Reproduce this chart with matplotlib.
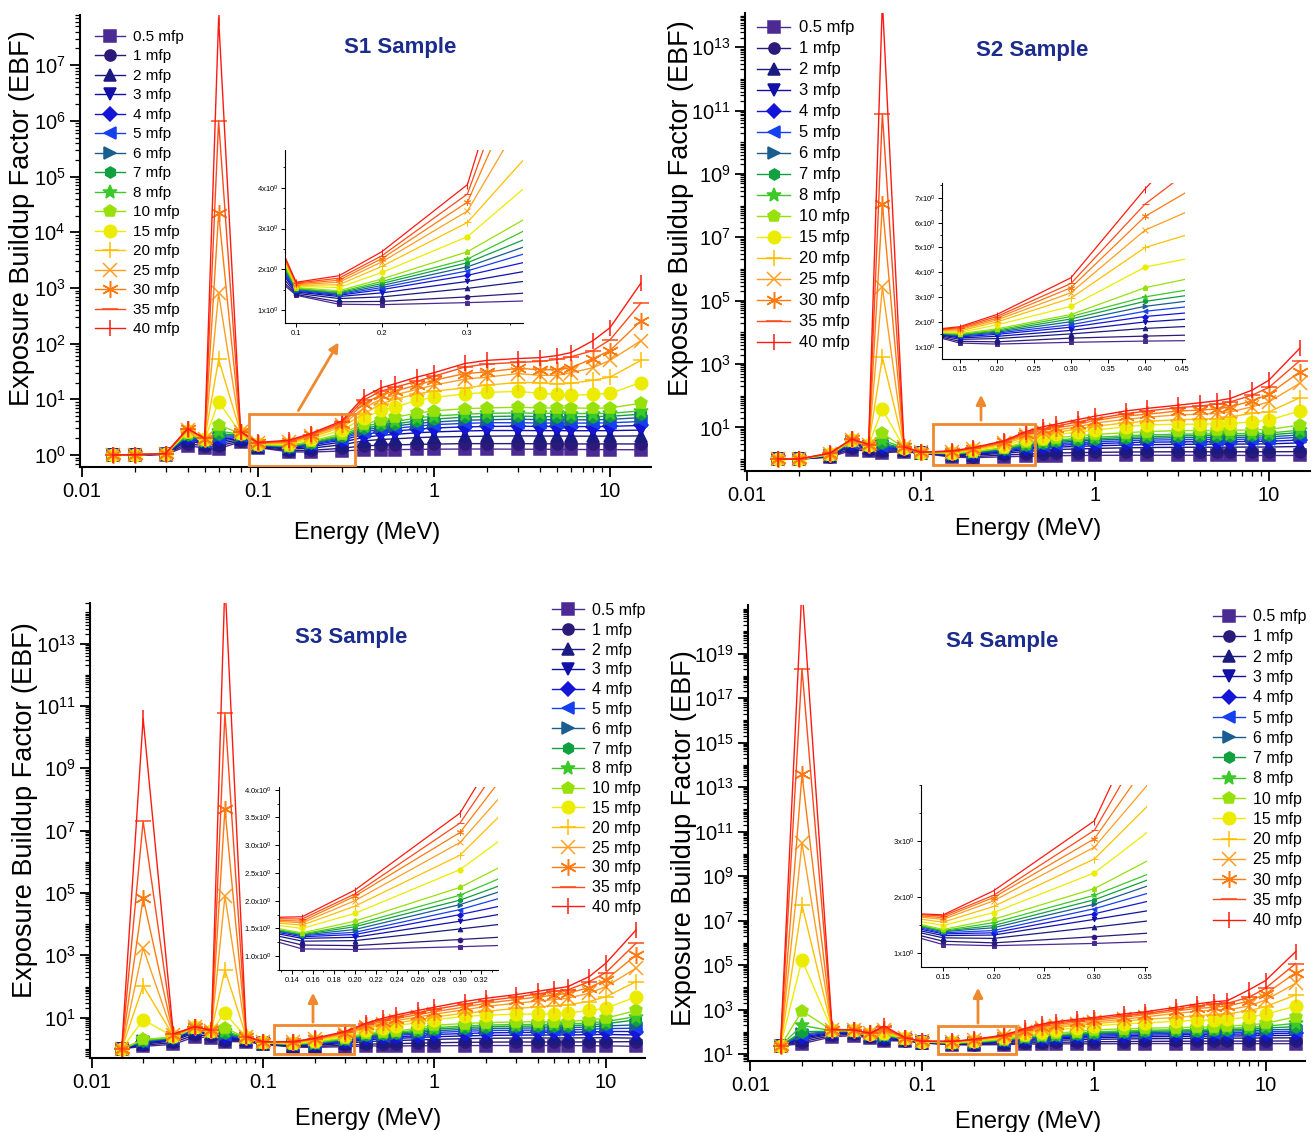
import numpy as np
import matplotlib
matplotlib.use('Agg')
import matplotlib.pyplot as plt
from matplotlib.patches import Rectangle, FancyArrowPatch
from matplotlib.ticker import (LogLocator, FixedLocator, FixedFormatter, FuncFormatter,
                               NullFormatter, MultipleLocator, LogFormatterMathtext)

plt.rcParams['font.family'] = ['Liberation Sans', 'DejaVu Sans']
plt.rcParams['mathtext.fontset'] = 'custom'
plt.rcParams['mathtext.rm'] = 'Liberation Sans'
plt.rcParams['mathtext.it'] = 'Liberation Sans:italic'
plt.rcParams['mathtext.bf'] = 'Liberation Sans:bold'

# photon energies (MeV)
energy = [0.015, 0.02, 0.03, 0.04, 0.05, 0.06, 0.08, 0.1, 0.15, 0.2, 0.3, 0.4, 0.5,
          0.6, 0.8, 1, 1.5, 2, 3, 4, 5, 6, 8, 10, 15]
# penetration depths (mfp)
depths = [0.5, 1, 2, 3, 4, 5, 6, 7, 8, 10, 15, 20, 25, 30, 35, 40]
labels = [f'{d:g} mfp' for d in depths]

colors = ['#4B2A93', '#2B1A7A', '#1A1A80', '#1010A8', '#1515D8', '#1540F0', '#1A5E90',
          '#10A040', '#3CC828', '#98E00A', '#ECEC00', '#FFC000', '#FF9E20', '#FF7A10',
          '#FF4A1A', '#FF1A10']
markers = ['s', 'o', '^', 'v', 'D', '<', '>', 'h', '*', 'p', 'o', '+', 'x', (6, 2, 0), '_', '|']
msizes = [8, 8, 8, 8, 7, 8, 8, 8, 10, 9, 9, 12, 10, 12, 12, 12]

# EBF tables: one row per energy, one column per depth
s1_ebf = [
    [1.00, 1.00, 1.00, 1.00, 1.00, 1.00, 1.00, 1.00, 1.00, 1.00, 1.00, 1.00, 1.00, 1.00, 1.00, 1.00],
    [1.00, 1.00, 1.00, 1.00, 1.01, 1.01, 1.01, 1.01, 1.01, 1.01, 1.01, 1.01, 1.01, 1.01, 1.01, 1.01],
    [1.02, 1.03, 1.03, 1.04, 1.04, 1.04, 1.05, 1.05, 1.05, 1.05, 1.05, 1.05, 1.06, 1.06, 1.06, 1.06],
    [1.45, 1.60, 1.80, 1.95, 2.05, 2.15, 2.25, 2.32, 2.40, 2.50, 2.65, 2.75, 2.82, 2.88, 2.93, 2.98],
    [1.35, 1.45, 1.55, 1.62, 1.68, 1.72, 1.76, 1.79, 1.82, 1.86, 1.90, 1.93, 1.95, 1.97, 1.98, 2.00],
    [1.30, 1.45, 1.60, 1.75, 1.90, 2.05, 2.20, 2.40, 2.70, 3.50, 9.0, 52, 800, 2.2e4, 1.0e6, 7.0e7],
    [1.72, 1.80, 1.90, 2.00, 2.08, 2.15, 2.22, 2.28, 2.34, 2.40, 2.46, 2.51, 2.55, 2.58, 2.61, 2.63],
    [1.36, 1.38, 1.41, 1.44, 1.46, 1.48, 1.50, 1.52, 1.53, 1.55, 1.58, 1.60, 1.62, 1.64, 1.66, 1.68],
    [1.14, 1.20, 1.28, 1.33, 1.36, 1.38, 1.40, 1.42, 1.44, 1.47, 1.55, 1.62, 1.68, 1.73, 1.78, 1.84],
    [1.13, 1.21, 1.32, 1.42, 1.50, 1.55, 1.60, 1.65, 1.70, 1.76, 1.92, 2.07, 2.18, 2.26, 2.33, 2.43],
    [1.18, 1.32, 1.53, 1.70, 1.85, 1.96, 2.06, 2.16, 2.25, 2.43, 2.80, 3.15, 3.43, 3.65, 3.85, 4.08],
    [1.24, 1.46, 1.79, 2.07, 2.33, 2.59, 2.80, 3.02, 3.30, 3.63, 4.60, 5.50, 7.00, 8.40, 9.70, 11.0],
    [1.25, 1.50, 1.90, 2.25, 2.60, 2.90, 3.15, 3.40, 3.70, 4.20, 6.30, 8.20, 10.0, 12.0, 14.0, 16.0],
    [1.25, 1.52, 1.95, 2.35, 2.70, 3.00, 3.30, 3.60, 4.00, 4.80, 7.20, 10.0, 12.0, 14.0, 16.5, 19.0],
    [1.26, 1.55, 2.05, 2.50, 2.90, 3.30, 3.70, 4.10, 4.60, 5.60, 9.60, 12.5, 15.0, 18.0, 21.0, 25.0],
    [1.27, 1.57, 2.10, 2.60, 3.05, 3.50, 3.90, 4.40, 5.00, 6.20, 10.8, 14.0, 18.0, 22.0, 26.0, 30.0],
    [1.28, 1.60, 2.15, 2.70, 3.20, 3.70, 4.20, 4.80, 5.40, 6.80, 12.5, 16.0, 23.0, 29.0, 38.0, 44.0],
    [1.28, 1.60, 2.18, 2.75, 3.25, 3.80, 4.30, 4.90, 5.60, 7.00, 13.3, 18.0, 25.0, 31.0, 43.0, 50.0],
    [1.27, 1.60, 2.20, 2.75, 3.30, 3.80, 4.40, 5.00, 5.70, 7.20, 13.9, 20.0, 29.0, 36.0, 46.0, 54.0],
    [1.27, 1.59, 2.19, 2.74, 3.25, 3.75, 4.30, 4.90, 5.60, 7.00, 12.8, 20.0, 27.0, 34.0, 48.0, 56.0],
    [1.26, 1.59, 2.19, 2.74, 3.25, 3.75, 4.30, 4.90, 5.60, 7.00, 12.3, 19.0, 27.0, 34.0, 52.0, 61.0],
    [1.26, 1.58, 2.18, 2.73, 3.24, 3.74, 4.28, 4.88, 5.55, 7.00, 11.8, 19.3, 30.0, 37.0, 58.0, 69.0],
    [1.25, 1.58, 2.18, 2.73, 3.24, 3.74, 4.28, 4.90, 5.55, 6.90, 12.3, 22.0, 37.0, 54.0, 75.0, 113],
    [1.25, 1.58, 2.18, 2.74, 3.26, 3.78, 4.35, 4.95, 5.60, 7.00, 12.8, 25.0, 50.0, 75.0, 117, 193],
    [1.24, 1.58, 2.20, 2.80, 3.40, 4.00, 4.70, 5.40, 6.20, 8.50, 20.0, 50.0, 113, 257, 540, 1230],
]

s2_ebf = [
    [1.00, 1.00, 1.00, 1.00, 1.00, 1.00, 1.00, 1.00, 1.00, 1.00, 1.00, 1.00, 1.00, 1.00, 1.00, 1.00],
    [1.00, 1.00, 1.00, 1.00, 1.00, 1.01, 1.01, 1.01, 1.01, 1.01, 1.01, 1.01, 1.01, 1.01, 1.01, 1.01],
    [1.15, 1.18, 1.22, 1.25, 1.28, 1.30, 1.32, 1.34, 1.36, 1.38, 1.42, 1.45, 1.48, 1.50, 1.52, 1.55],
    [1.90, 2.20, 2.60, 2.90, 3.10, 3.30, 3.45, 3.60, 3.70, 3.85, 4.00, 4.10, 4.15, 4.20, 4.25, 4.30],
    [1.85, 2.00, 2.20, 2.35, 2.45, 2.55, 2.60, 2.65, 2.70, 2.75, 2.80, 2.82, 2.84, 2.86, 2.88, 2.90],
    [1.60, 1.75, 1.95, 2.15, 2.35, 2.55, 2.80, 3.20, 4.00, 6.50, 37.0, 1650, 2.7e5, 1.1e8, 8.0e10, 3.0e14],
    [1.70, 1.80, 1.90, 2.00, 2.07, 2.12, 2.17, 2.20, 2.24, 2.28, 2.32, 2.35, 2.37, 2.39, 2.41, 2.43],
    [1.55, 1.56, 1.57, 1.58, 1.58, 1.59, 1.59, 1.60, 1.60, 1.61, 1.61, 1.62, 1.63, 1.63, 1.64, 1.65],
    [1.15, 1.22, 1.30, 1.36, 1.40, 1.43, 1.46, 1.48, 1.50, 1.53, 1.58, 1.64, 1.69, 1.73, 1.77, 1.81],
    [1.11, 1.20, 1.33, 1.42, 1.50, 1.55, 1.59, 1.63, 1.67, 1.72, 1.88, 2.00, 2.08, 2.15, 2.22, 2.30],
    [1.18, 1.35, 1.52, 1.66, 1.79, 1.89, 2.01, 2.12, 2.22, 2.30, 2.63, 2.96, 3.18, 3.38, 3.55, 3.78],
    [1.23, 1.43, 1.74, 2.00, 2.22, 2.43, 2.63, 2.83, 3.01, 3.38, 4.21, 5.00, 5.70, 6.25, 6.75, 7.36],
    [1.26, 1.50, 1.88, 2.20, 2.48, 2.75, 3.00, 3.25, 3.50, 4.00, 4.80, 5.90, 7.00, 8.00, 9.00, 10.5],
    [1.28, 1.56, 2.00, 2.38, 2.70, 3.05, 3.35, 3.70, 4.00, 4.80, 6.00, 7.00, 8.20, 9.60, 11.0, 12.7],
    [1.30, 1.60, 2.10, 2.52, 2.90, 3.30, 3.70, 4.10, 4.50, 5.40, 7.00, 8.80, 10.5, 12.5, 15.0, 17.8],
    [1.31, 1.63, 2.17, 2.62, 3.05, 3.50, 3.95, 4.40, 4.90, 6.00, 8.20, 10.8, 13.7, 16.5, 18.7, 22.6],
    [1.32, 1.67, 2.27, 2.78, 3.30, 3.80, 4.30, 4.80, 5.40, 6.80, 10.5, 14.0, 18.0, 23.0, 27.0, 33.0],
    [1.32, 1.69, 2.32, 2.85, 3.40, 3.95, 4.50, 5.10, 5.80, 7.40, 12.0, 15.5, 21.0, 26.0, 33.0, 40.0],
    [1.32, 1.70, 2.35, 2.92, 3.50, 4.10, 4.75, 5.40, 6.10, 7.90, 12.6, 17.6, 25.0, 33.0, 42.0, 50.0],
    [1.32, 1.70, 2.37, 2.95, 3.55, 4.15, 4.80, 5.50, 6.20, 8.00, 12.6, 18.0, 26.0, 35.0, 47.0, 60.0],
    [1.31, 1.70, 2.37, 2.95, 3.55, 4.15, 4.80, 5.50, 6.20, 8.00, 13.0, 19.0, 27.6, 38.0, 54.0, 69.0],
    [1.31, 1.70, 2.38, 2.97, 3.58, 4.20, 4.85, 5.50, 6.30, 8.10, 13.3, 21.6, 31.0, 44.6, 64.0, 82.0],
    [1.30, 1.70, 2.40, 3.00, 3.60, 4.25, 4.90, 5.60, 6.40, 8.30, 15.0, 27.6, 44.6, 69.0, 104, 150],
    [1.30, 1.70, 2.40, 3.02, 3.65, 4.30, 5.00, 5.80, 6.60, 8.60, 17.0, 31.0, 64.0, 112, 183, 310],
    [1.30, 1.72, 2.50, 3.25, 4.00, 4.90, 5.80, 6.90, 8.20, 11.8, 33.0, 86.0, 245, 565, 1260, 3100],
]

s3_ebf = [
    [1.00, 1.00, 1.00, 1.00, 1.00, 1.00, 1.00, 1.00, 1.00, 1.00, 1.00, 1.00, 1.00, 1.00, 1.00, 1.00],
    [1.20, 1.30, 1.42, 1.52, 1.60, 1.67, 1.73, 1.80, 1.88, 2.00, 8.5, 105, 1700, 7.0e4, 2.0e7, 4.0e10],
    [1.40, 1.60, 1.80, 1.95, 2.05, 2.15, 2.22, 2.28, 2.33, 2.40, 2.50, 2.60, 2.70, 2.80, 2.90, 3.00],
    [2.40, 2.80, 3.30, 3.70, 4.00, 4.20, 4.35, 4.50, 4.60, 4.70, 4.85, 4.95, 5.00, 5.05, 5.10, 5.15],
    [2.30, 2.60, 2.90, 3.10, 3.25, 3.35, 3.45, 3.52, 3.58, 3.65, 3.75, 3.82, 3.87, 3.90, 3.93, 3.95],
    [1.70, 1.85, 2.05, 2.25, 2.45, 2.70, 2.95, 3.30, 3.80, 4.70, 14.0, 340, 8.0e4, 5.0e7, 6.0e10, 1.0e15],
    [1.70, 1.80, 1.90, 1.98, 2.05, 2.10, 2.15, 2.18, 2.22, 2.26, 2.32, 2.37, 2.40, 2.43, 2.46, 2.50],
    [1.40, 1.43, 1.47, 1.50, 1.52, 1.54, 1.55, 1.56, 1.57, 1.59, 1.62, 1.64, 1.66, 1.67, 1.68, 1.69],
    [1.13, 1.20, 1.27, 1.32, 1.35, 1.37, 1.38, 1.39, 1.40, 1.42, 1.50, 1.56, 1.60, 1.63, 1.67, 1.71],
    [1.12, 1.19, 1.28, 1.34, 1.39, 1.43, 1.48, 1.53, 1.57, 1.63, 1.77, 1.90, 2.00, 2.08, 2.12, 2.19],
    [1.17, 1.30, 1.49, 1.63, 1.75, 1.84, 1.93, 2.01, 2.10, 2.24, 2.56, 2.82, 3.05, 3.23, 3.40, 3.58],
    [1.23, 1.41, 1.71, 1.96, 2.15, 2.38, 2.55, 2.70, 2.90, 3.20, 3.95, 4.70, 5.20, 5.70, 6.20, 6.70],
    [1.24, 1.45, 1.80, 2.10, 2.35, 2.60, 2.80, 2.98, 3.20, 3.50, 4.60, 5.60, 6.50, 7.50, 8.50, 9.60],
    [1.24, 1.47, 1.85, 2.18, 2.45, 2.72, 2.95, 3.15, 3.40, 3.70, 5.60, 6.80, 8.10, 9.40, 10.8, 12.3],
    [1.25, 1.52, 1.94, 2.30, 2.62, 2.98, 3.30, 3.65, 4.00, 4.60, 6.90, 8.60, 10.5, 12.5, 14.5, 17.0],
    [1.26, 1.57, 2.02, 2.45, 2.90, 3.35, 3.80, 4.30, 4.80, 5.70, 8.60, 10.5, 13.0, 15.5, 18.5, 21.7],
    [1.27, 1.62, 2.12, 2.60, 3.10, 3.65, 4.20, 4.80, 5.40, 6.50, 11.0, 14.0, 18.0, 22.0, 27.0, 33.0],
    [1.28, 1.64, 2.18, 2.70, 3.25, 3.85, 4.45, 5.10, 5.80, 7.00, 12.0, 16.0, 23.0, 29.0, 35.0, 42.0],
    [1.28, 1.66, 2.22, 2.75, 3.35, 3.95, 4.60, 5.30, 6.00, 7.30, 13.0, 20.0, 29.0, 38.0, 46.0, 55.0],
    [1.28, 1.66, 2.23, 2.78, 3.38, 4.00, 4.70, 5.40, 6.10, 7.40, 13.0, 22.0, 34.0, 46.0, 58.0, 70.0],
    [1.28, 1.66, 2.23, 2.78, 3.38, 4.00, 4.70, 5.40, 6.10, 7.40, 13.0, 24.0, 38.0, 53.0, 70.0, 85.0],
    [1.27, 1.66, 2.24, 2.80, 3.40, 4.05, 4.75, 5.45, 6.20, 7.50, 14.0, 26.0, 42.0, 61.0, 78.0, 99.0],
    [1.26, 1.67, 2.26, 2.85, 3.50, 4.25, 5.05, 5.90, 6.80, 8.50, 17.0, 33.0, 61.0, 92.0, 143, 208],
    [1.25, 1.68, 2.28, 2.90, 3.60, 4.45, 5.40, 6.40, 7.50, 9.60, 20.0, 47.0, 99.0, 163, 280, 560],
    [1.20, 1.70, 2.20, 2.80, 3.60, 4.60, 5.90, 8.50, 10.8, 17.0, 47.0, 143, 385, 1030, 2450, 6500],
]

# S4 main panel, values as read against its own (offset) y axis labels
s4_ebf = [
    [23.5, 23.5, 23.5, 23.5, 23.5, 23.5, 23.5, 23.5, 23.5, 23.5, 23.5, 23.5, 23.5, 23.5, 23.5, 23.5],
    [30.0, 36.3, 44.6, 52.9, 61.0, 71.0, 82.9, 104, 198, 880, 1.73e5, 5.1e7, 3.1e10, 3.7e13, 2.1e18, 1.0e22],
    [60.8, 71.0, 80.9, 88.8, 94.6, 100, 104, 108, 112, 116, 120, 124, 125, 127, 129, 131],
    [69.0, 78.9, 88.8, 94.6, 100, 104, 108, 110, 112, 114, 118, 120, 122, 124, 124, 125],
    [52.9, 59.0, 65.0, 69.0, 73.0, 75.0, 77.0, 78.9, 79.9, 80.9, 82.9, 84.8, 85.8, 86.8, 86.8, 87.8],
    [40.5, 44.6, 50.8, 54.9, 59.0, 63.0, 67.0, 71.0, 75.0, 80.9, 94.6, 108, 124, 142, 161, 189],
    [39.5, 41.5, 43.6, 45.1, 46.3, 47.1, 47.9, 48.8, 49.4, 50.2, 51.2, 52.0, 52.9, 53.5, 54.1, 54.9],
    [32.1, 32.7, 33.6, 34.2, 34.8, 35.3, 35.7, 36.1, 36.3, 36.7, 37.4, 37.8, 38.2, 38.4, 38.6, 38.8],
    [26.7, 28.0, 29.3, 30.2, 30.8, 31.2, 31.7, 31.9, 32.1, 32.5, 34.0, 35.3, 36.3, 36.9, 37.6, 38.0],
    [26.3, 27.4, 29.1, 30.4, 31.2, 32.1, 33.2, 34.0, 35.1, 36.3, 38.8, 41.1, 43.2, 44.4, 45.3, 46.9],
    [27.2, 29.7, 33.4, 36.3, 38.4, 40.3, 42.0, 43.6, 45.3, 47.7, 53.5, 58.6, 62.8, 65.8, 68.8, 72.2],
    [28.5, 32.3, 37.8, 42.4, 47.1, 51.0, 54.7, 57.3, 59.8, 66.8, 81.1, 94.0, 104, 116, 129, 146],
    [28.9, 33.4, 40.1, 45.7, 50.8, 55.9, 60.0, 64.0, 67.0, 77.0, 100, 129, 150, 172, 198, 229],
    [29.1, 34.2, 42.2, 48.8, 54.9, 61.0, 66.0, 71.0, 75.0, 88.8, 124, 157, 185, 216, 253, 289],
    [29.5, 35.5, 44.6, 52.9, 60.0, 67.0, 74.0, 80.9, 86.8, 104, 152, 198, 235, 280, 324, 377],
    [29.7, 36.3, 46.7, 55.9, 64.0, 73.0, 81.9, 90.7, 100, 124, 187, 235, 280, 333, 385, 446],
    [30.0, 37.4, 48.8, 59.0, 69.0, 78.9, 89.7, 100, 112, 139, 235, 306, 377, 463, 548, 649],
    [30.2, 37.8, 49.8, 61.0, 72.0, 82.9, 94.6, 106, 120, 148, 253, 377, 480, 599, 682, 815],
    [30.2, 38.4, 50.8, 63.0, 75.0, 86.8, 99.5, 112, 125, 156, 306, 446, 682, 880, 1040, 1280],
    [30.2, 38.6, 51.8, 64.0, 77.0, 88.8, 102, 116, 131, 165, 333, 548, 847, 1150, 1440, 1830],
    [30.2, 38.8, 52.2, 65.0, 77.9, 90.7, 104, 120, 135, 170, 342, 582, 960, 1280, 1830, 2280],
    [30.2, 39.0, 52.9, 66.0, 79.9, 93.6, 110, 127, 146, 187, 377, 649, 977, 1470, 1950, 2550],
    [30.0, 39.0, 53.3, 67.0, 81.9, 96.6, 114, 135, 157, 206, 463, 912, 1470, 2430, 3610, 7760],
    [30.0, 39.2, 53.9, 69.0, 84.8, 102, 124, 150, 180, 245, 615, 1375, 2730, 5120, 9200, 20300],
    [30.0, 39.5, 54.9, 71.0, 88.8, 108, 133, 174, 245, 480, 1470, 4620, 15400, 46200, 1.19e5, 4.1e5],
]

# S4 inset (linear axis), energies 0.1 - 0.4 MeV
s4_inset_energy = [0.1, 0.15, 0.2, 0.3, 0.4]
s4_inset_ebf = [
    [1.40, 1.43, 1.47, 1.50, 1.53, 1.55, 1.57, 1.59, 1.60, 1.62, 1.65, 1.67, 1.69, 1.70, 1.71, 1.72],
    [1.15, 1.21, 1.27, 1.31, 1.34, 1.36, 1.38, 1.39, 1.40, 1.42, 1.49, 1.55, 1.60, 1.63, 1.66, 1.68],
    [1.13, 1.18, 1.26, 1.32, 1.36, 1.40, 1.45, 1.49, 1.54, 1.60, 1.72, 1.83, 1.93, 1.99, 2.03, 2.11],
    [1.17, 1.29, 1.46, 1.60, 1.70, 1.79, 1.87, 1.95, 2.03, 2.15, 2.43, 2.68, 2.89, 3.04, 3.19, 3.36],
    [1.23, 1.41, 1.67, 1.89, 2.12, 2.31, 2.49, 2.62, 2.74, 3.09, 3.81, 4.47, 5.00, 5.60, 6.30, 7.20],
]

orange = '#F0892E'
navy = '#1C2C8C'

fig = plt.figure(figsize=(13.16, 11.32), dpi=100)


def main_panel(rect, table, xlim, ylim, ymajor, title, tpos, leg_loc, leg_anchor, leg_fs,
               leg_sp, xlab_pos, ylab_pos):
    ax = fig.add_axes(rect)
    data = np.array(table).T
    for i in range(len(depths)):
        ax.plot(energy, data[i], color=colors[i], marker=markers[i], ms=msizes[i],
                mew=1.1, lw=1.0, label=labels[i])
    ax.set_xscale('log')
    ax.set_yscale('log')
    ax.set_xlim(xlim)
    ax.set_ylim(ylim)
    ax.xaxis.set_major_locator(FixedLocator([0.01, 0.1, 1, 10]))
    ax.xaxis.set_major_formatter(FixedFormatter(['0.01', '0.1', '1', '10']))
    ax.xaxis.set_minor_locator(LogLocator(base=10, subs=np.arange(2, 10), numticks=50))
    ax.xaxis.set_minor_formatter(NullFormatter())
    ax.yaxis.set_major_locator(FixedLocator(ymajor))
    ax.yaxis.set_major_formatter(LogFormatterMathtext())
    ax.yaxis.set_minor_locator(LogLocator(base=10, subs=np.arange(1, 10), numticks=300))
    ax.yaxis.set_minor_formatter(NullFormatter())
    for s in ['top', 'right']:
        ax.spines[s].set_visible(False)
    for s in ['left', 'bottom']:
        ax.spines[s].set_linewidth(1.5)
    ax.tick_params(which='major', direction='out', length=7, width=1.3, labelsize=14.5)
    ax.tick_params(which='minor', direction='out', length=3.5, width=0.9)
    ax.set_xlabel('Energy (MeV)', fontsize=17)
    ax.set_ylabel('Exposure Buildup Factor (EBF)', fontsize=19.5)
    ax.xaxis.set_label_coords(*xlab_pos)
    ax.yaxis.set_label_coords(*ylab_pos)
    ax.text(tpos[0], tpos[1], title, transform=ax.transAxes, ha='center', va='center',
            fontsize=16, fontweight='bold', color=navy)
    ax.legend(loc=leg_loc, bbox_to_anchor=leg_anchor, frameon=False, fontsize=leg_fs,
              labelspacing=leg_sp, handlelength=2.0, handletextpad=0.5,
              borderpad=0, borderaxespad=0)
    return ax


def inset_panel(rect, xs, table, xlim, ylim, xticks, xminor, xfmt, yticks, yminor, yfmt):
    ax = fig.add_axes(rect)
    data = np.array(table).T
    for i in range(len(depths)):
        ax.plot(xs, data[i], color=colors[i], marker=markers[i], ms=msizes[i] * 0.42,
                mew=0.7, lw=0.9)
    ax.set_xlim(xlim)
    ax.set_ylim(ylim)
    ax.set_xticks(xticks)
    ax.xaxis.set_major_formatter(FuncFormatter(lambda v, p: xfmt.format(v)))
    ax.xaxis.set_minor_locator(MultipleLocator(xminor))
    ax.set_yticks(yticks)
    ax.yaxis.set_major_formatter(FuncFormatter(lambda v, p: yfmt.format(v) + 'x10$^0$'))
    ax.yaxis.set_minor_locator(MultipleLocator(yminor))
    for s in ['top', 'right']:
        ax.spines[s].set_visible(False)
    for s in ['left', 'bottom']:
        ax.spines[s].set_linewidth(0.8)
    ax.tick_params(which='major', direction='out', length=3, width=0.7, labelsize=5.5, pad=2)
    ax.tick_params(which='minor', direction='out', length=1.6, width=0.6)
    return ax


def zoom_marks(ax, box, arrow):
    x0, x1, y0, y1 = box
    ax.add_patch(Rectangle((x0, y0), x1 - x0, y1 - y0, fill=False, ec=orange, lw=2.0,
                           zorder=5))
    a, b = arrow
    fig.add_artist(FancyArrowPatch((a[0] / 1316, 1 - a[1] / 1132), (b[0] / 1316, 1 - b[1] / 1132),
                                   transform=fig.transFigure, arrowstyle='-|>',
                                   mutation_scale=14, color=orange, lw=2.0))


odd_decades = [10.0 ** k for k in range(1, 20, 2)]

# S1
ax1 = main_panel([0.0608, 0.5875, 0.4339, 0.3993], s1_ebf, (0.0098, 17.1), (0.61, 8e7),
                 [10.0 ** k for k in range(0, 8)], 'S1 Sample', (0.56, 0.929),
                 'upper left', (0.026, 0.967), 11, 0.36, (0.503, -0.122), (-0.078, 0.551))
inset_panel([0.2166, 0.7147, 0.1809, 0.1528], energy, s1_ebf, (0.087, 0.365), (0.68, 4.93),
            [0.1, 0.2, 0.3], 0.05, '{:.1f}', [1, 2, 3, 4], 0.5, '{:g}')
zoom_marks(ax1, (0.0889, 0.356, 0.64, 5.4), ((297, 413), (340, 340)))

# S2
ax2 = main_panel([0.5661, 0.5839, 0.4293, 0.4046], s2_ebf, (0.00974, 17.2), (0.42, 1.2e14),
                 odd_decades, 'S2 Sample', (0.508, 0.919),
                 'upper left', (0.021, 0.984), 12, 0.36, (0.501, -0.103), (-0.091, 0.574))
inset_panel([0.7158, 0.6829, 0.1847, 0.1555], energy, s2_ebf, (0.126, 0.454), (0.51, 7.6),
            [0.15, 0.20, 0.25, 0.30, 0.35, 0.40, 0.45], 0.025, '{:.2f}',
            [1, 2, 3, 4, 5, 6, 7], 0.5, '{:g}')
zoom_marks(ax2, (0.117, 0.452, 0.65, 12.7), ((981, 423), (981, 392)))

# S3
ax3 = main_panel([0.0684, 0.0654, 0.4217, 0.4019], s3_ebf, (0.0098, 16.9), (0.51, 2e14),
                 odd_decades, 'S3 Sample', (0.47, 0.925),
                 'upper right', (1.0, 1.0), 11.5, 0.30, (0.501, -0.110), (-0.093, 0.545))
inset_panel([0.2120, 0.1431, 0.1664, 0.1617], energy, s3_ebf, (0.128, 0.336), (0.75, 4.05),
            [0.14, 0.16, 0.18, 0.20, 0.22, 0.24, 0.26, 0.28, 0.30, 0.32], 0.01, '{:.2f}',
            [1.0, 1.5, 2.0, 2.5, 3.0, 3.5, 4.0], 0.25, '{:.1f}')
zoom_marks(ax3, (0.116, 0.338, 0.69, 5.9), ((313, 1025), (313, 990)))

# S4
ax4 = main_panel([0.5684, 0.0627, 0.4233, 0.4028], s4_ebf, (0.0097, 17.0), (4.97, 1.5e21),
                 odd_decades, 'S4 Sample', (0.456, 0.919),
                 'upper right', (1.002, 0.991), 11.5, 0.33, (0.503, -0.110), (-0.092, 0.489))
inset_panel([0.6998, 0.1458, 0.1717, 0.1608], s4_inset_energy, s4_inset_ebf, (0.128, 0.352),
            (0.75, 4.0), [0.15, 0.20, 0.25, 0.30, 0.35], 0.025, '{:.2f}', [1, 2, 3], 0.5, '{:g}')
zoom_marks(ax4, (0.124, 0.352, 10.3, 186), ((978, 1026), (978, 985)))

fig.savefig('out.png', dpi=100)
